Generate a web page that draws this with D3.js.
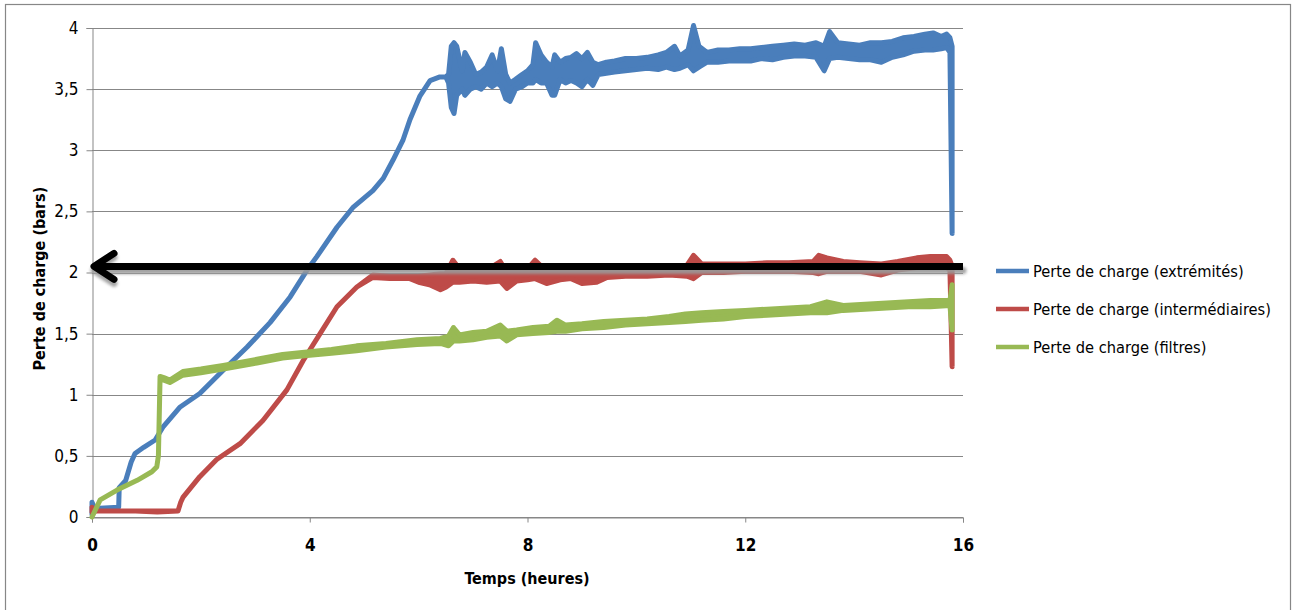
<!DOCTYPE html>
<html><head><meta charset="utf-8">
<script src="https://cdn.jsdelivr.net/npm/d3@7"></script>
<style>
body{margin:0;background:#fff}
text{font-family:"DejaVu Sans Condensed","Open Sans",sans-serif;fill:#000}
</style>
</head><body>
<svg id="chart" width="1299" height="610"></svg>
<script>
// ---- data ----
const xTicks = [0, 4, 8, 12, 16];
const yTicks = [0, 0.5, 1, 1.5, 2, 2.5, 3, 3.5, 4];
const yTickLabels = ["0", "0,5", "1", "1,5", "2", "2,5", "3", "3,5", "4"];
const seriesNames = ["Perte de charge (extrémités)", "Perte de charge (intermédiaires)", "Perte de charge (filtres)"];
const seriesColors = ["#4A7EBB", "#BE4B48", "#98B954"];
const xTitle = "Temps (heures)";
const yTitle = "Perte de charge (bars)";
const seuil = 2.05; // arrow level

// [heures, bas, haut]
const extremites = [
  [0,0.02,0.12],[0.05,0.07,0.07],[0.49,0.08,0.08],[0.5,0.24,0.24],[0.62,0.30,0.30],[0.72,0.45,0.45],
  [0.79,0.52,0.52],[0.95,0.57,0.57],[1.16,0.63,0.63],[1.31,0.74,0.74],[1.62,0.90,0.90],[1.98,1.01,1.01],
  [2.41,1.20,1.20],[2.85,1.39,1.39],[3.27,1.59,1.59],[3.64,1.80,1.80],[3.95,2.02,2.02],[4.13,2.13,2.13],
  [4.50,2.37,2.37],[4.79,2.53,2.53],[5.16,2.67,2.67],[5.35,2.77,2.77],[5.53,2.92,2.92],[5.71,3.08,3.08],
  [5.84,3.25,3.25],[6.02,3.44,3.44],[6.21,3.57,3.57],[6.39,3.60,3.60],[6.5,3.60,3.60],
  [6.55,3.55,3.62],[6.6,3.35,3.85],[6.65,3.30,3.88],[6.7,3.45,3.85],[6.8,3.50,3.65],[6.85,3.45,3.80],
  [6.95,3.50,3.72],[7.05,3.52,3.62],[7.15,3.50,3.64],[7.25,3.55,3.68],[7.35,3.52,3.78],[7.45,3.55,3.65],
  [7.52,3.52,3.83],[7.6,3.42,3.62],[7.68,3.40,3.55],[7.78,3.50,3.58],[7.9,3.52,3.62],[8.0,3.55,3.65],
  [8.1,3.55,3.70],[8.15,3.58,3.88],[8.25,3.55,3.78],[8.35,3.55,3.72],[8.45,3.45,3.68],[8.5,3.45,3.78],
  [8.6,3.58,3.72],[8.7,3.55,3.75],[8.8,3.57,3.76],[8.9,3.55,3.79],[9.0,3.52,3.75],[9.1,3.58,3.80],
  [9.2,3.53,3.72],[9.3,3.62,3.70],[9.45,3.63,3.72],[9.6,3.64,3.73],[9.8,3.65,3.75],[10.0,3.66,3.75],
  [10.2,3.67,3.76],[10.4,3.66,3.78],[10.55,3.68,3.80],[10.7,3.66,3.85],[10.8,3.67,3.77],[10.95,3.70,3.82],
  [11.05,3.65,4.02],[11.15,3.68,3.85],[11.3,3.72,3.80],[11.5,3.72,3.82],[11.7,3.73,3.82],[11.9,3.73,3.83],
  [12.1,3.73,3.83],[12.3,3.75,3.84],[12.5,3.74,3.85],[12.7,3.76,3.86],[12.9,3.77,3.87],[13.1,3.77,3.86],
  [13.3,3.76,3.88],[13.45,3.65,3.85],[13.55,3.75,3.97],[13.7,3.76,3.88],[13.9,3.75,3.87],[14.1,3.74,3.86],
  [14.3,3.74,3.88],[14.5,3.72,3.88],[14.7,3.76,3.89],[14.9,3.78,3.92],[15.1,3.81,3.93],[15.3,3.82,3.95],
  [15.45,3.82,3.96],[15.6,3.83,3.93],[15.7,3.84,3.95],[15.76,3.80,3.92],[15.8,2.32,3.85]
];
const intermediaires = [
  [0,0.04,0.08],[0.1,0.05,0.05],[0.8,0.05,0.05],[1.2,0.04,0.05],[1.58,0.05,0.05],[1.63,0.12,0.12],
  [1.67,0.16,0.16],[1.98,0.33,0.33],[2.29,0.47,0.47],[2.72,0.60,0.60],[3.14,0.79,0.79],[3.58,1.04,1.04],
  [3.88,1.28,1.28],[4.19,1.50,1.50],[4.50,1.72,1.72],[4.86,1.88,1.88],[5.16,1.96,1.98],[5.47,1.95,1.97],
  [5.84,1.95,1.97],[6.0,1.92,1.97],[6.2,1.90,1.98],[6.4,1.86,1.99],[6.5,1.88,1.99],[6.63,1.92,2.10],
  [6.75,1.92,2.03],[7.0,1.93,2.04],[7.25,1.92,2.02],[7.5,1.93,2.09],[7.62,1.87,2.00],[7.8,1.93,2.02],
  [8.0,1.94,2.03],[8.14,1.95,2.10],[8.35,1.91,2.01],[8.6,1.94,2.03],[8.8,1.95,2.03],[9.0,1.91,2.03],
  [9.27,1.92,2.03],[9.46,1.96,2.04],[9.8,1.97,2.05],[10.2,1.97,2.05],[10.6,1.98,2.05],[10.93,1.97,2.06],
  [11.05,1.95,2.14],[11.2,2.00,2.07],[11.6,2.00,2.07],[12.0,2.01,2.07],[12.4,2.01,2.08],[12.8,2.01,2.08],
  [13.25,2.00,2.09],[13.35,1.99,2.14],[13.5,2.01,2.12],[13.8,2.01,2.09],[14.1,2.01,2.08],[14.5,1.98,2.07],
  [14.8,2.02,2.09],[15.15,2.04,2.12],[15.4,2.05,2.13],[15.7,2.04,2.13],[15.76,2.02,2.10],[15.8,1.23,2.05]
];
const filtres = [
  [0,0,0],[0.15,0.14,0.14],[0.46,0.22,0.22],[0.83,0.30,0.30],[1.1,0.37,0.37],[1.19,0.41,0.41],
  [1.22,0.50,0.50],[1.25,1.13,1.15],[1.32,1.12,1.14],[1.43,1.10,1.12],[1.67,1.16,1.19],[2.0,1.18,1.21],
  [2.41,1.21,1.24],[3.03,1.26,1.29],[3.5,1.30,1.33],[3.95,1.32,1.35],[4.4,1.34,1.37],[4.86,1.36,1.40],
  [5.4,1.39,1.42],[5.97,1.41,1.45],[6.4,1.42,1.46],[6.55,1.40,1.48],[6.64,1.44,1.55],[6.75,1.44,1.49],
  [7.0,1.45,1.51],[7.25,1.47,1.52],[7.5,1.48,1.57],[7.62,1.44,1.52],[7.8,1.49,1.53],[8.1,1.50,1.55],
  [8.4,1.51,1.56],[8.54,1.52,1.61],[8.7,1.52,1.57],[9.0,1.54,1.58],[9.4,1.55,1.60],[9.8,1.57,1.61],
  [10.2,1.58,1.62],[10.6,1.59,1.64],[10.9,1.60,1.66],[11.2,1.61,1.67],[11.6,1.62,1.68],[12.0,1.64,1.69],
  [12.4,1.65,1.70],[12.8,1.66,1.71],[13.2,1.67,1.72],[13.5,1.67,1.76],[13.8,1.69,1.73],[14.2,1.70,1.74],
  [14.6,1.71,1.75],[15.0,1.72,1.76],[15.4,1.72,1.77],[15.76,1.73,1.77],[15.8,1.53,1.90]
];
const allSeries = [extremites, intermediaires, filtres];

// ---- chart ----
const svg = d3.select("#chart");
const grid = "#878787";
svg.append("rect").attr("x",5.5).attr("y",4.5).attr("width",1285).attr("height",640)
  .attr("fill","none").attr("stroke",grid).attr("stroke-width",1.2);

const x = d3.scaleLinear().domain([0,16]).range([92,963]);
const y = d3.scaleLinear().domain([0,4]).range([517,28]);

// gridlines
svg.append("g").selectAll("line").data(yTicks).join("line")
  .attr("x1",x(0)).attr("x2",x(16)).attr("y1",d=>Math.round(y(d))+0.5).attr("y2",d=>Math.round(y(d))+0.5)
  .attr("stroke",grid).attr("stroke-width",1);

// y axis
const yAxis = svg.append("g").attr("transform",`translate(${x(0)+0.5},0)`)
  .call(d3.axisLeft(y).tickValues(yTicks).tickSize(6).tickPadding(8).tickFormat((d,i)=>yTickLabels[i]));
yAxis.select(".domain").attr("stroke",grid);
yAxis.selectAll(".tick line").attr("stroke",grid);
yAxis.selectAll("text").attr("font-size",17).attr("font-family",null);

// x axis
const xAxis = svg.append("g").attr("transform",`translate(0,${Math.round(y(0))+0.5})`)
  .call(d3.axisBottom(x).tickValues(xTicks).tickSize(5).tickPadding(16).tickFormat(d3.format("d")));
xAxis.select(".domain").attr("stroke",grid);
xAxis.selectAll(".tick line").attr("stroke",grid);
xAxis.selectAll("text").attr("font-size",17).attr("font-weight","bold").attr("font-family",null);

// series
const area = d3.area().x(d=>x(d[0])).y0(d=>y(d[1])).y1(d=>y(d[2]));
svg.append("g").selectAll("path").data(allSeries).join("path")
  .attr("d",area).attr("fill",(d,i)=>seriesColors[i]).attr("stroke",(d,i)=>seriesColors[i])
  .attr("stroke-width",5).attr("stroke-linejoin","round").attr("stroke-linecap","round");

// arrow with shadow
const defs = svg.append("defs");
const f = defs.append("filter").attr("id","sh").attr("x","-5%").attr("y","-100%").attr("width","110%").attr("height","300%");
f.append("feGaussianBlur").attr("stdDeviation",1.5);
const ay = y(seuil);
function arrow(g){
  g.append("line").attr("x1",x(0)+3).attr("x2",x(16)).attr("y1",ay).attr("y2",ay);
  g.append("polyline").attr("points",`${x(0)+22},${ay-13} ${x(0)+2},${ay} ${x(0)+22},${ay+13}`).attr("fill","none");
}
const sg = svg.append("g").attr("stroke","#9a9a9a").attr("stroke-width",7).attr("stroke-linecap","round")
  .attr("stroke-linejoin","round").attr("transform","translate(0,4)").attr("filter","url(#sh)").attr("opacity",0.9);
arrow(sg);
const ag = svg.append("g").attr("stroke","#000").attr("stroke-width",7).attr("stroke-linecap","round").attr("stroke-linejoin","round");
arrow(ag);
ag.select("line").attr("stroke-linecap","butt");

// titles
svg.append("text").attr("x",527).attr("y",584).attr("text-anchor","middle")
  .attr("font-size",16).attr("font-weight","bold").text(xTitle);
svg.append("text").attr("transform",`translate(45,${y(1.95)}) rotate(-90)`).attr("text-anchor","middle")
  .attr("font-size",16).attr("font-weight","bold").text(yTitle);

// legend
const lg = svg.append("g").attr("transform","translate(996,271)");
const li = lg.selectAll("g").data(seriesNames).join("g").attr("transform",(d,i)=>`translate(0,${i*38})`);
li.append("line").attr("x1",0).attr("x2",33).attr("stroke",(d,i)=>seriesColors[i]).attr("stroke-width",4.5);
li.append("text").attr("x",37).attr("dy","0.35em").attr("font-size",16.3).text(d=>d);
</script>
</body></html>
